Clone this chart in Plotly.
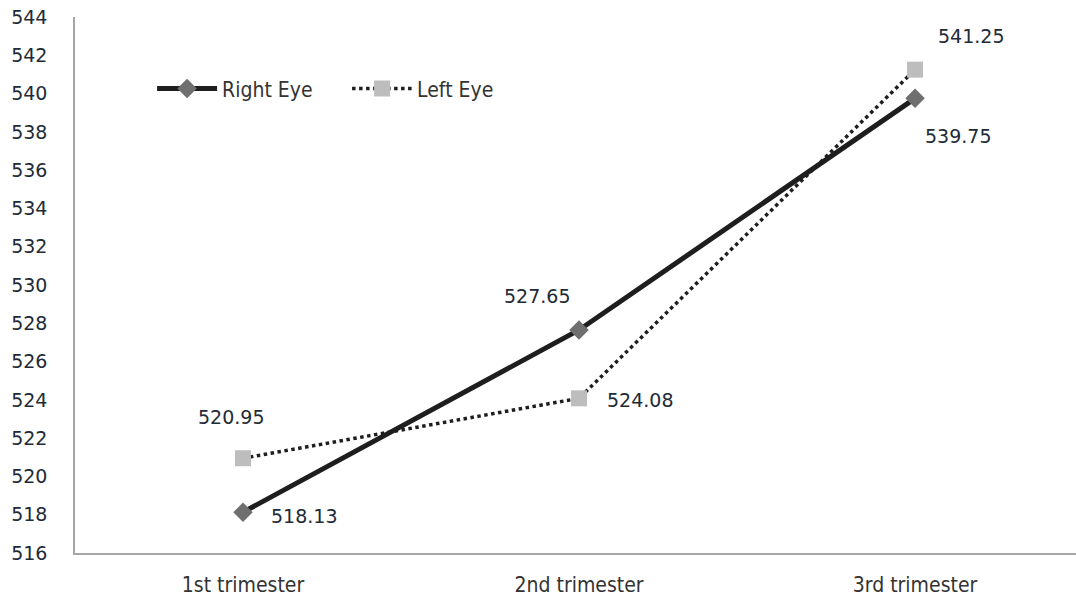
import plotly.graph_objects as go

# Mean values per trimester
trimesters = ["1st trimester", "2nd trimester", "3rd trimester"]
right_eye = [518.13, 527.65, 539.75]
left_eye = [520.95, 524.08, 541.25]
y_ticks = list(range(516, 545, 2))

num_font = "DejaVu Sans, Verdana, sans-serif"
cat_font = "Liberation Sans Narrow, DejaVu Sans Condensed, sans-serif"
text_col = "#222a36"

fig = go.Figure()
fig.add_trace(go.Scatter(
    x=trimesters, y=right_eye, name="Right Eye", mode="lines+markers",
    line=dict(color="#1e1e1e", width=5),
    marker=dict(symbol="diamond", size=15, color="#6f6f6f"),
))
fig.add_trace(go.Scatter(
    x=trimesters, y=left_eye, name="Left Eye", mode="lines+markers",
    line=dict(color="#1e1e1e", width=3.5, dash="dot"),
    marker=dict(symbol="square", size=16, color="#bdbdbd"),
))

# Value labels beside each point (x shift, y shift in px)
right_off = [(61, -4), (-42, 34), (43, -38)]
left_off = [(-12, 41), (61, -2), (56, 34)]
for cat, v, (dx, dy) in zip(trimesters, right_eye, right_off):
    fig.add_annotation(x=cat, y=v, text=f"{v:.2f}", showarrow=False,
                       xshift=dx, yshift=dy,
                       font=dict(family=num_font, size=19, color=text_col))
for cat, v, (dx, dy) in zip(trimesters, left_eye, left_off):
    fig.add_annotation(x=cat, y=v, text=f"{v:.2f}", showarrow=False,
                       xshift=dx, yshift=dy,
                       font=dict(family=num_font, size=19, color=text_col))

fig.update_layout(
    width=1076, height=601,
    margin=dict(l=75, r=0, t=17, b=48),
    paper_bgcolor="white", plot_bgcolor="white",
    showlegend=True,
    legend=dict(orientation="h", x=0.077, y=0.866, xanchor="left", yanchor="middle",
                font=dict(family=cat_font, size=21, color="#333333"),
                itemwidth=60, entrywidth=120, entrywidthmode="pixels",
                bgcolor="rgba(0,0,0,0)"),
    xaxis=dict(range=[-0.5, 2.479], showline=True, linecolor="#a6a6a6", linewidth=1.5,
               showgrid=False, zeroline=False, ticks="", ticklabelstandoff=12,
               tickfont=dict(family=cat_font, size=21, color="#333333")),
    yaxis=dict(range=[516, 544], tickvals=y_ticks, showline=True, linecolor="#a6a6a6",
               linewidth=1.5, showgrid=False, zeroline=False, ticks="",
               ticklabelstandoff=22,
               tickfont=dict(family=num_font, size=19, color=text_col)),
)

fig.write_html("out.html")
